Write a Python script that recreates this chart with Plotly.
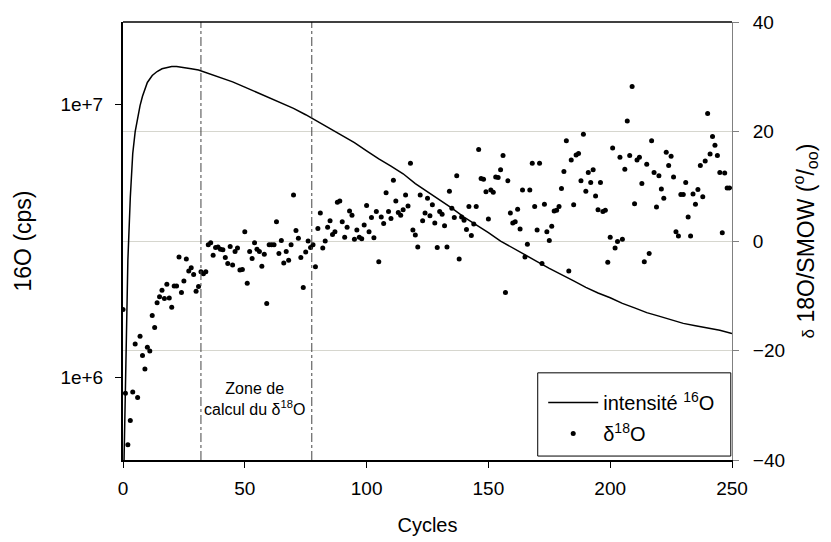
import plotly.graph_objects as go

# 16O intensity (cps)
intensity_cycles = [0, 1, 2, 3, 4, 5, 6, 7, 8, 9, 10, 12, 14, 16, 18, 20, 22, 25, 28, 31,
                    35, 40, 45, 50, 55, 60, 65, 70, 75, 80, 85, 90, 95, 100, 105, 110,
                    115, 120, 125, 130, 135, 140, 145, 150, 155, 160, 165, 170, 175, 180,
                    185, 190, 195, 200, 205, 210, 215, 220, 225, 230, 235, 240, 245, 250]
intensity_cps = [316000, 1000000, 2690000, 4570000, 6610000, 7940000, 8910000, 9890000,
                 10700000, 11430000, 12020000, 12740000, 13180000, 13490000, 13650000,
                 13740000, 13740000, 13650000, 13490000, 13340000, 12970000, 12530000,
                 12080000, 11560000, 11040000, 10540000, 10090000, 9660000, 9160000,
                 8650000, 8150000, 7690000, 7240000, 6760000, 6310000, 5940000, 5570000,
                 5130000, 4790000, 4470000, 4170000, 3870000, 3630000, 3390000, 3160000,
                 2990000, 2820000, 2660000, 2510000, 2390000, 2260000, 2140000, 2040000,
                 1960000, 1870000, 1800000, 1730000, 1680000, 1630000, 1580000, 1550000,
                 1520000, 1490000, 1450000]

# delta 18O (permil), one point per cycle
delta_cycles = list(range(250))
delta_values = [
    -12.5, -27.8, -37.2, -32.8, -27.6, -18.8, -28.6, -17.4, -20.9, -23.4,
    -19.4, -20.1, -13.6, -15.8, -11.3, -10.2, -9.0, -10.5, -7.9, -10.4,
    -12.1, -8.2, -8.2, -2.9, -9.4, -7.3, -3.3, -5.5, -4.9, -6.1,
    -9.2, -8.3, -5.6, -6.0, -5.6, -0.7, -0.3, -2.6, -1.2, -1.1,
    -1.5, -1.6, -3.0, -4.1, -1.0, -4.4, -1.9, -1.3, -5.3, -5.2,
    1.7, -7.7, -1.9, -3.2, -0.3, -1.5, -1.9, -4.6, -2.4, -11.4,
    -0.7, -0.7, -0.7, 3.5, -2.3, 0.1, -4.0, -1.9, -3.5, -0.7,
    8.4, 1.9, 0.5, -3.0, -8.5, -2.0, 0.0, -1.2, -0.7, -4.7,
    2.3, 5.1, -1.3, 0.0, 2.5, 3.7, 1.2, 1.7, 7.1, 7.3,
    3.5, 0.7, 2.5, 5.5, 4.7, 0.3, 2.0, 0.7, 0.4, 2.9,
    6.5, 1.7, 4.3, 0.6, 5.4, -3.8, 4.4, 3.2, 8.8, 5.4,
    4.1, 11.1, 7.3, 5.2, 4.7, 5.7, 8.4, 6.4, 14.2, 2.0,
    1.1, -1.1, 8.4, 3.7, 5.1, 7.8, 4.6, 6.6, 3.3, -1.2,
    5.4, 4.9, 2.8, -1.1, 9.1, 6.0, 4.3, 11.9, -3.3, 4.4,
    3.8, 2.1, 6.3, 1.0, 3.1, 6.3, 16.7, 11.4, 11.3, 9.0,
    4.0, 9.3, 8.9, 11.7, 11.6, 13.0, 15.6, -9.4, 11.0, 5.1,
    3.3, 3.5, 5.8, 2.2, 9.3, -2.9, -0.6, 9.3, 14.2, 6.3,
    2.0, 14.2, -4.1, 6.7, 1.7, 0.1, 2.7, 5.5, 5.6, 6.3,
    9.6, 12.7, 18.3, -5.5, 14.8, 6.6, 15.7, 16.0, 11.0, 19.5,
    9.1, 12.5, 10.7, 13.0, 8.2, 5.7, 10.7, 5.4, 5.6, -3.9,
    0.7, 17.0, -1.3, -0.1, 15.3, 0.3, 13.1, 21.9, 15.6, 28.2,
    6.8, 14.8, 15.3, 10.5, -3.8, 14.0, -2.3, 18.3, 12.5, 6.2,
    11.9, 9.5, 7.8, 16.2, 13.8, 15.5, 11.7, 1.7, 0.9, 8.5,
    8.5, 10.7, 4.4, 0.9, 8.6, 6.7, 9.4, 13.8, 8.1, 14.6,
    23.3, 15.9, 19.1, 17.5, 15.6, 12.5, 1.5, 12.4, 9.7, 9.7,
]

# calculation zone limits (cycles)
zone_limits = [32, 77.5]

font_family = "Liberation Sans, Arial, sans-serif"

fig = go.Figure()

fig.add_trace(go.Scatter(x=intensity_cycles, y=intensity_cps,
                         mode="lines",
                         name="intensité <sup>16</sup>O",
                         legendgroup="a",
                         line=dict(color="black", width=1.5),
                         yaxis="y"))

fig.add_trace(go.Scatter(x=delta_cycles, y=delta_values,
                         mode="markers",
                         name="δ<sup>18</sup>O",
                         legendgroup="b",
                         marker=dict(color="black", size=5, symbol="circle"),
                         yaxis="y2"))

for z in zone_limits:
    fig.add_shape(type="line", xref="x", yref="paper", x0=z, x1=z, y0=0, y1=1,
                  line=dict(color="#444444", width=1, dash="dashdot"))

fig.add_annotation(x=54, y=0.092, xref="x", yref="paper",
                   text="Zone de<br>calcul du δ<sup>18</sup>O",
                   showarrow=False, font=dict(size=16, color="black"),
                   align="center")

# legend frame
fig.add_shape(type="rect", xref="paper", yref="paper",
              x0=0.681, x1=0.998, y0=0.009, y1=0.199,
              line=dict(color="black", width=1), fillcolor="white", layer="above")

fig.update_layout(
    width=831, height=542,
    # the page body adds 8px, so margins are shifted to keep the plot box in place
    margin=dict(l=115, r=107, t=14, b=90),
    paper_bgcolor="white",
    plot_bgcolor="white",
    font=dict(family=font_family, color="black", size=19),
    showlegend=True,
    legend=dict(x=0.69, y=0.176, xanchor="left", yanchor="top",
                bgcolor="rgba(0,0,0,0)", borderwidth=0,
                font=dict(size=20), traceorder="grouped",
                tracegroupgap=2, itemwidth=50),
    xaxis=dict(range=[0, 250], tickvals=[0, 50, 100, 150, 200, 250],
               ticks="outside", ticklen=6, tickcolor="black",
               ticklabelstandoff=4,
               showgrid=False, zeroline=False,
               showline=True, linecolor="black", linewidth=2,
               automargin=False,
               title=dict(text="Cycles", font=dict(size=20), standoff=20),
               tickfont=dict(size=19)),
    yaxis=dict(type="log", range=[5.699, 7.301],
               tickvals=[1e6, 1e7], ticktext=["1e+6", "1e+7"],
               ticks="outside", ticklen=6, tickcolor="black",
               ticklabelstandoff=8,
               showgrid=False, zeroline=False,
               showline=True, linecolor="black", linewidth=2,
               automargin=False,
               title=dict(text="16O (cps)", font=dict(size=23), standoff=22),
               tickfont=dict(size=19)),
    yaxis2=dict(overlaying="y", side="right", range=[-40, 40],
                tickvals=[-40, -20, 0, 20, 40],
                ticks="outside", ticklen=6, tickcolor="#808080",
                ticklabelstandoff=10,
                showgrid=True, gridcolor="#d6d6ce", gridwidth=1,
                zeroline=False,
                showline=True, linecolor="#808080", linewidth=1,
                automargin=False,
                title=dict(text="<span style='font-size:17px'>δ</span> 18O/SMOW (<sup>o</sup>/<sub>oo</sub>)",
                           font=dict(size=23), standoff=13),
                tickfont=dict(size=19)),
)

# top border
fig.add_shape(type="line", xref="paper", yref="paper", x0=0, x1=1, y0=1, y1=1,
              line=dict(color="black", width=1.5))

fig.write_html("out.html")
